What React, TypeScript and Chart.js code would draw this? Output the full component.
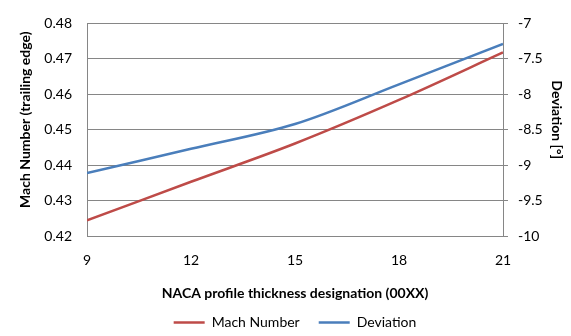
import { useEffect, useRef } from 'react';
import { Chart, registerables } from 'chart.js';

Chart.register(...registerables);

// NACA 00XX profile thickness designation
const thickness = [9, 12, 15, 18, 21];
// Trailing-edge Mach number (left axis)
const machNumber = [0.4244, 0.4353, 0.4461, 0.4584, 0.4718];
// Flow deviation in degrees (right axis)
const deviation = [-9.11, -8.77, -8.42, -7.86, -7.29];

const xTickValues = [9, 12, 15, 18, 21];

const FONT = 'Lato, "Open Sans", "DejaVu Sans", sans-serif';
const FONT_SIZE = 14;
const GRID = '#868686';
const RED = '#BE4B48';
const BLUE = '#4A7EBB';

const leftTitle = 'Mach Number (trailing edge)';
const rightTitle = 'Deviation [°]';

// Rotated side titles, sitting slightly above the vertical middle of the plot
const sideTitles = {
  id: 'sideTitles',
  afterDraw(chart: any) {
    const { ctx, chartArea } = chart;
    const cy = (chartArea.top + chartArea.bottom) / 2 - 10;
    ctx.save();
    ctx.font = `bold ${FONT_SIZE}px ${FONT}`;
    ctx.fillStyle = '#000';
    ctx.textAlign = 'center';
    ctx.textBaseline = 'middle';

    ctx.save();
    ctx.translate(25, cy);
    ctx.rotate(-Math.PI / 2);
    ctx.fillText(leftTitle, 0, 0);
    ctx.restore();

    ctx.save();
    ctx.translate(chart.width - 14.5, cy);
    ctx.rotate(Math.PI / 2);
    ctx.fillText(rightTitle, 0, 0);
    ctx.restore();

    ctx.restore();
  },
};

export default function App() {
  const canvasRef = useRef<HTMLCanvasElement | null>(null);

  useEffect(() => {
    const canvas = canvasRef.current;
    if (!canvas) return;

    const chart = new Chart(canvas, {
      type: 'line',
      data: {
        datasets: [
          {
            label: 'Mach Number',
            data: thickness.map((x, i) => ({ x, y: machNumber[i] })),
            borderColor: RED,
            backgroundColor: RED,
            borderWidth: 2.5,
            pointRadius: 0,
            tension: 0.33,
            yAxisID: 'y',
          },
          {
            label: 'Deviation',
            data: thickness.map((x, i) => ({ x, y: deviation[i] })),
            borderColor: BLUE,
            backgroundColor: BLUE,
            borderWidth: 2.5,
            pointRadius: 0,
            tension: 0.33,
            yAxisID: 'y1',
          },
        ],
      },
      options: {
        responsive: false,
        animation: false,
        events: [],
        layout: { padding: { top: 16, left: 0, right: 0, bottom: -3.5 } },
        plugins: {
          tooltip: { enabled: false },
          legend: {
            position: 'bottom',
            fullSize: false,
            labels: {
              usePointStyle: true,
              pointStyle: 'line',
              pointStyleWidth: 31,
              boxHeight: FONT_SIZE,
              padding: 19,
              color: '#000',
              font: { family: FONT, size: FONT_SIZE },
            },
          },
        },
        scales: {
          x: {
            type: 'linear',
            min: 9,
            max: 21,
            afterBuildTicks: (scale: any) => {
              scale.ticks = xTickValues.map((value) => ({ value }));
            },
            afterFit: (scale: any) => {
              scale.height = 60.5;
            },
            grid: { display: false, drawTicks: false },
            border: { display: true, color: GRID, width: 1 },
            ticks: {
              padding: 16.1,
              color: '#000',
              font: { family: FONT, size: FONT_SIZE },
              maxRotation: 0,
            },
            title: {
              display: true,
              text: 'NACA profile thickness designation (00XX)',
              color: '#000',
              font: { family: FONT, size: FONT_SIZE, weight: 'bold' },
              padding: { top: 0, bottom: -4.9 },
            },
          },
          y: {
            position: 'left',
            min: 0.42,
            max: 0.48,
            afterFit: (scale: any) => {
              scale.width = 87;
            },
            grid: { color: GRID, lineWidth: 1, drawTicks: false },
            border: { display: true, color: GRID, width: 1 },
            ticks: {
              stepSize: 0.01,
              padding: 15,
              color: '#000',
              font: { family: FONT, size: FONT_SIZE },
              callback: (v: any) => Number(v).toFixed(2),
            },
          },
          y1: {
            position: 'right',
            min: -10,
            max: -7,
            afterFit: (scale: any) => {
              scale.width = 68;
            },
            grid: {
              drawOnChartArea: false,
              drawTicks: true,
              tickLength: 5,
              color: GRID,
              lineWidth: 1,
            },
            border: { display: true, color: GRID, width: 1 },
            ticks: {
              stepSize: 0.5,
              padding: 10,
              color: '#000',
              font: { family: FONT, size: FONT_SIZE },
              callback: (v: any) => String(Math.round(Number(v) * 10) / 10),
            },
          },
        },
      },
      plugins: [sideTitles],
    });

    return () => chart.destroy();
  }, []);

  return (
    <div style={{ position: 'fixed', left: 0, top: 0, width: 571, height: 336, overflow: 'hidden', background: '#fff' }}>
      <canvas ref={canvasRef} width={571} height={336} style={{ display: 'block' }} />
    </div>
  );
}
